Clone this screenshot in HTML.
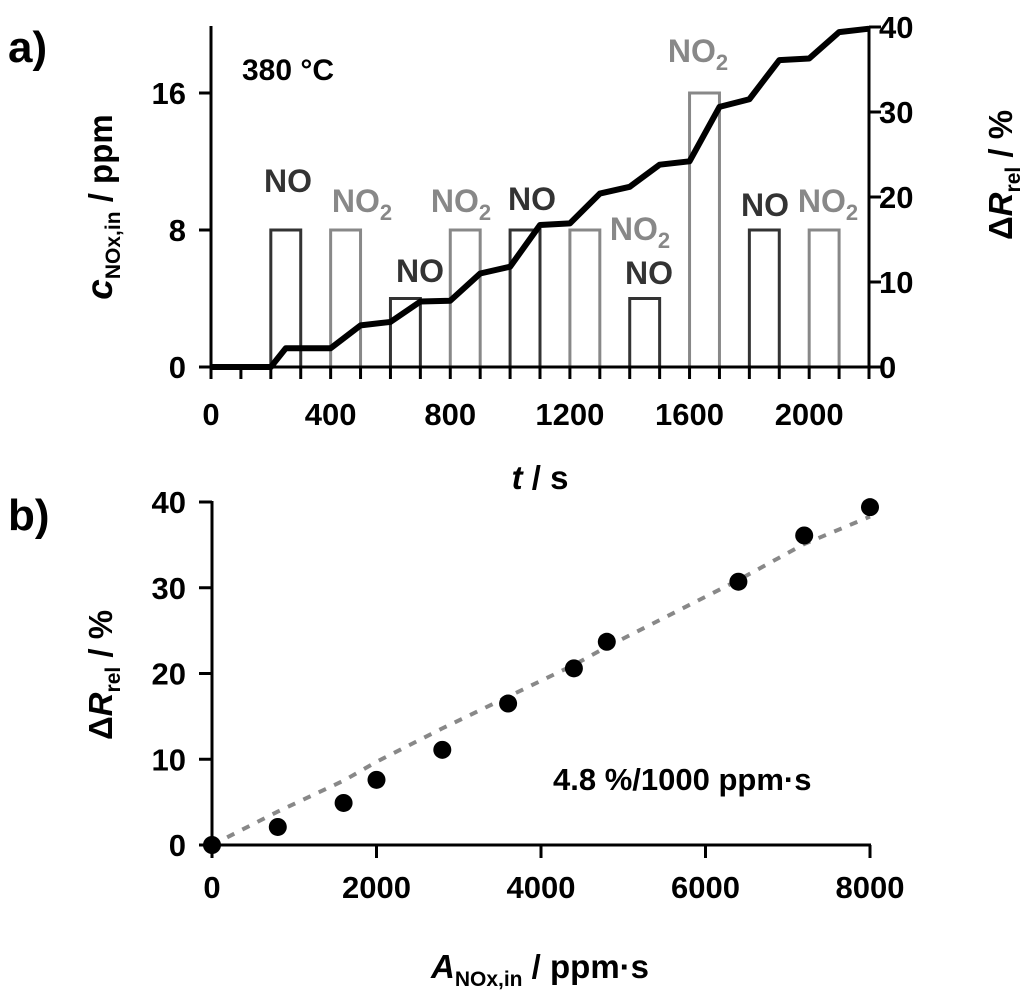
<!DOCTYPE html>
<html><head><meta charset="utf-8"><style>
html,body{margin:0;padding:0;background:#fff}
svg{display:block;font-family:"Liberation Sans",Arial,sans-serif;font-weight:bold}
</style></head><body>
<svg id="chart" width="1024" height="1008" viewBox="0 0 1024 1008">
<g id="pa"></g>
<g id="pb"></g>
</svg>
<script>
// Panel a data
const pulseStarts = [200,400,600,800,1000,1200,1400,1600,1800,2000];
const pulseConc = [8,8,4,8,8,8,4,16,8,8];
const pulseGas = ["NO","NO2","NO","NO2","NO","NO2","NO","NO2","NO","NO2"];
const respTimes = [0,200,250,400,500,600,700,800,900,1000,1100,1200,1300,1400,1500,1600,1700,1800,1900,2000,2100,2200];
const respValues = [0,0,2.2,2.2,4.9,5.3,7.7,7.8,11.0,11.8,16.7,16.9,20.4,21.2,23.8,24.2,30.6,31.5,36.1,36.3,39.4,39.8];
const xTicksA = [0,400,800,1200,1600,2000];
const yTicksLeft = [0,8,16];
const yTicksRight = [0,10,20,30,40];
// Panel b data
const doseValues = [0,800,1600,2000,2800,3600,4400,4800,6400,7200,8000];
const deltaR = [0,2.1,4.9,7.6,11.1,16.5,20.6,23.7,30.7,36.1,39.4];
const fitValues = [0,3.9,7.5,9.7,13.6,17.3,21.0,23.1,30.9,35.1,38.3];
const xTicksB = [0,2000,4000,6000,8000];
const yTicksB = [0,10,20,30,40];

const NS="http://www.w3.org/2000/svg";
function mk(parent,tag,attrs,text){const e=document.createElementNS(NS,tag);for(const k in attrs)e.setAttribute(k,attrs[k]);if(text!==undefined)e.textContent=text;parent.appendChild(e);return e;}

const pa=document.getElementById('pa');
const xA=t=>211+t*(658/2200);
const yL=c=>367-c*(137/8);
const yR=v=>367-v*(340/40);

pulseStarts.forEach((s,i)=>{
  const col = pulseGas[i]==="NO"?"#333":"#888";
  const p=mk(pa,'polyline',{points:`${xA(s)},${yL(0)} ${xA(s)},${yL(pulseConc[i])} ${xA(s+100)},${yL(pulseConc[i])} ${xA(s+100)},${yL(0)}`,fill:'none',stroke:col,'stroke-width':3});
  
  
});
const bl=mk(pa,'line',{x1:xA(0),y1:yL(0),x2:xA(2200),y2:yL(0),stroke:'#888','stroke-width':2});


const rc=mk(pa,'polyline',{points:respTimes.map((t,i)=>xA(t)+','+yR(respValues[i])).join(' '),fill:'none',stroke:'#000','stroke-width':6,'stroke-linejoin':'round'});


const axA=mk(pa,'path',{d:`M211,26 V367 H869 M869,26 V367`,fill:'none',stroke:'#000','stroke-width':3});


for(let t=0;t<=2200;t+=100){const l=mk(pa,'line',{x1:xA(t),y1:367,x2:xA(t),y2:379,stroke:'#000','stroke-width':3});

}
xTicksA.forEach(t=>{const e=mk(pa,'text',{x:xA(t),y:425,'text-anchor':'middle','font-size':31},t);

});
yTicksLeft.forEach(c=>{mk(pa,'line',{x1:199,y1:yL(c),x2:211,y2:yL(c),stroke:'#000','stroke-width':3});
const e=mk(pa,'text',{x:186,y:yL(c)+11,'text-anchor':'end','font-size':31},c);

});
yTicksRight.forEach(v=>{mk(pa,'line',{x1:869,y1:yR(v),x2:881,y2:yR(v),stroke:'#000','stroke-width':3});
const e=mk(pa,'text',{x:879,y:yR(v)+11,'font-size':31},v);

});
const labelPos=[[288,192],[362,212],[420,282],[461,212],[532,210],[640,240],[649,284],[698,62],[765,216],[828,212]];
labelPos.forEach((p,i)=>{
  const col = pulseGas[i]==="NO"?"#333":"#888";
  const t=mk(pa,'text',{x:p[0],y:p[1],'text-anchor':'middle','font-size':32,fill:col});
  
  
  if(pulseGas[i]==="NO2"){t.appendChild(document.createTextNode('NO'));mk(t,'tspan',{'font-size':22,dy:8},'2');}
  else t.textContent='NO';
});
</script>
<script>
(function(){
const svg=document.getElementById('chart');
svg.insertAdjacentHTML('beforeend',`
<text x="8" y="62" font-size="44">a)</text>
<text x="8" y="530" font-size="44">b)</text>
<text x="242" y="80" font-size="30">380 °C</text>
<text x="540" y="489" font-size="33" text-anchor="middle"><tspan font-style="italic">t</tspan> / s</text>
<text transform="translate(112,207) rotate(-90)" font-size="33" text-anchor="middle"><tspan font-style="italic" font-size="37">c</tspan><tspan font-size="21" dy="8">NOx,in</tspan><tspan dy="-8"> / ppm</tspan></text>
<text transform="translate(1012,175) rotate(-90)" font-size="33" text-anchor="middle">Δ<tspan font-style="italic">R</tspan><tspan font-size="21" dy="8">rel</tspan><tspan dy="-8"> / %</tspan></text>
<text transform="translate(112,675) rotate(-90)" font-size="33" text-anchor="middle">Δ<tspan font-style="italic">R</tspan><tspan font-size="21" dy="8">rel</tspan><tspan dy="-8"> / %</tspan></text>
<text x="540" y="978" font-size="33" text-anchor="middle"><tspan font-style="italic">A</tspan><tspan font-size="21" dy="8">NOx,in</tspan><tspan dy="-8"> / ppm·s</tspan></text>
<text x="553" y="790" font-size="31">4.8 %/1000 ppm·s</text>
`);
})();
const pb=document.getElementById('pb');
const xB=a=>212+a*(658/8000);
const yB=v=>845-v*(343/40);
const fit=mk(pb,'polyline',{points:doseValues.map((d,i)=>xB(d)+','+yB(fitValues[i])).join(' '),fill:'none',stroke:'#888','stroke-width':4,'stroke-dasharray':'8 9'});


const axB=mk(pb,'path',{d:`M212,501 V845 H871`,fill:'none',stroke:'#000','stroke-width':3});


xTicksB.forEach(a=>{mk(pb,'line',{x1:xB(a),y1:845,x2:xB(a),y2:858,stroke:'#000','stroke-width':3});
const e=mk(pb,'text',{x:xB(a),y:898,'text-anchor':'middle','font-size':31},a);

});
yTicksB.forEach(v=>{mk(pb,'line',{x1:199,y1:yB(v),x2:212,y2:yB(v),stroke:'#000','stroke-width':3});
const e=mk(pb,'text',{x:186,y:yB(v)+11,'text-anchor':'end','font-size':31},v);

});
doseValues.forEach((d,i)=>{const c=mk(pb,'circle',{cx:xB(d),cy:yB(deltaR[i]),r:9,fill:'#000'});

});
</script>
</body></html>
